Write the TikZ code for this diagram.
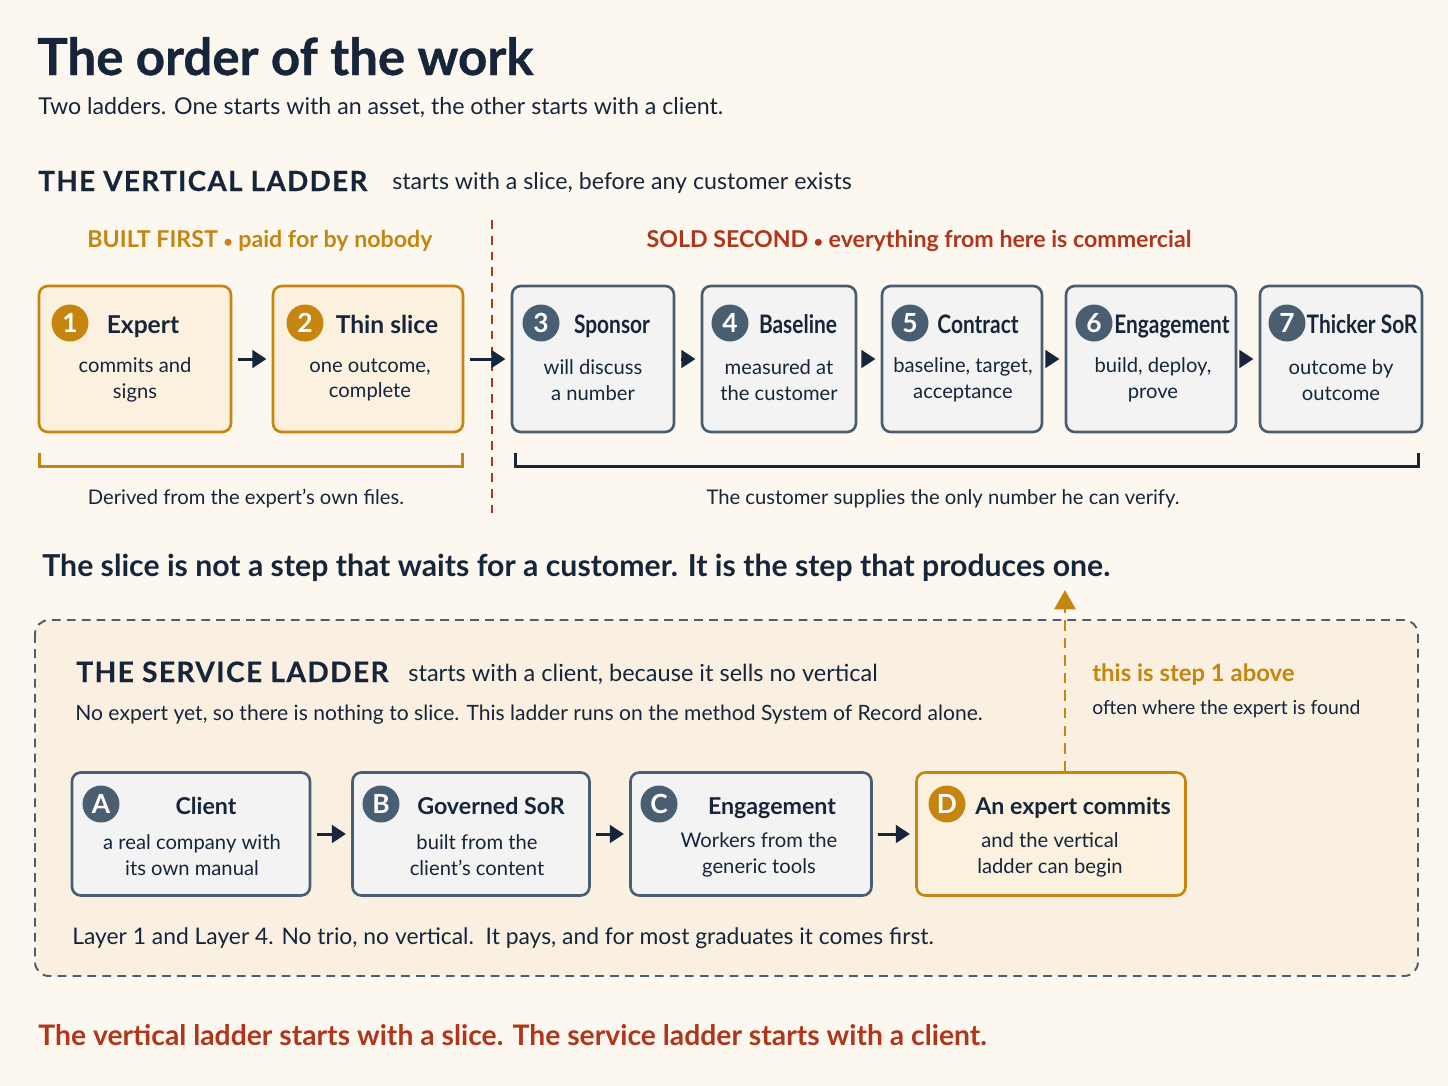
\documentclass[tikz,border=0pt]{standalone}
\usepackage{fontspec}
\setmainfont{Lato}
\newfontfamily\spacedfont[LetterSpace=5, FakeBold=0.4]{Lato}
\newfontfamily\heavyfont[FakeBold=0.7]{Lato}
\newfontfamily\narrowfont[FakeStretch=0.82]{Lato}
\usetikzlibrary{arrows.meta,positioning,calc}
\definecolor{cream}{HTML}{FCF8EF}
\definecolor{panel}{HTML}{F9F0E1}
\definecolor{ink}{HTML}{16253A}
\definecolor{gold}{HTML}{C5850F}
\definecolor{rust}{HTML}{B0351B}
\definecolor{slate}{HTML}{4A5E71}
\definecolor{slatefill}{HTML}{F2F3F2}
\definecolor{goldfill}{HTML}{FBF1DE}
\newcommand{\middot}{{\fontsize{9}{9}\selectfont •}}

\begin{document}
\begin{tikzpicture}[
    x=0.02cm, y=-0.02cm,
    box/.style={rectangle, draw, rounded corners=5pt, line width=1.5pt, inner sep=0pt, minimum height=2.92cm},
    slatebox/.style={box, draw=slate, fill=slatefill},
    goldbox/.style={box, draw=gold, fill=goldfill},
    badge/.style={circle, minimum size=0.74cm, inner sep=0pt, text=white, font=\fontsize{15}{15}\selectfont\bfseries},
    steptitle/.style={anchor=base, text=ink, font=\fontsize{14}{16}\selectfont\bfseries},
    narrowtitle/.style={steptitle, font=\narrowfont\fontsize{14.5}{16}\selectfont\bfseries},
    stepbody/.style={align=center, text=ink, font=\fontsize{11.5}{14.7}\selectfont},
    note/.style={anchor=base west, text=ink, inner sep=0pt},
    arrow/.style={-{Triangle[length=8pt, width=10pt]}, ink, line width=1.7pt, shorten <=3pt, shorten >=3pt}
]
    % page
    \fill[cream] (0,0) rectangle (1448,1086);

    % Heading
    \node[note, font=\heavyfont\fontsize{29}{34}\selectfont\bfseries] (head) at (37,75) {The order of the work};
    \node[note, font=\fontsize{13.2}{15}\selectfont] (sub) at (38,114) {Two ladders. One starts with an asset, the other starts with a client.};

    % The vertical ladder
    \node[note, font=\spacedfont\fontsize{15.8}{18}\selectfont\bfseries] (vlad) at (38,191) {THE VERTICAL LADDER};
    \node[note, font=\fontsize{13.2}{15}\selectfont] (vlsub) at (392,189) {starts with a slice, before any customer exists};
    \node[anchor=base, text=gold, font=\fontsize{13.2}{15}\selectfont\bfseries] (built) at (260,247) {BUILT FIRST \middot{} paid for by nobody};
    \node[anchor=base, text=rust, font=\fontsize{13.2}{15}\selectfont\bfseries] (sold) at (919,247) {SOLD SECOND \middot{} everything from here is commercial};
    \draw[rust, line width=1.6pt, dash pattern=on 5pt off 4pt] (492,220) -- (492,518);

    % steps 1-2 (built first)
    \node[goldbox, minimum width=3.84cm] (b1) at (135,359) {};
    \node[goldbox, minimum width=3.80cm] (b2) at (368,359) {};
    % steps 3-7 (sold second)
    \node[slatebox, minimum width=3.24cm] (b3) at (593,359) {};
    \node[slatebox, minimum width=3.08cm] (b4) at (779,359) {};
    \node[slatebox, minimum width=3.20cm] (b5) at (962,359) {};
    \node[slatebox, minimum width=3.40cm] (b6) at (1151,359) {};
    \node[slatebox, minimum width=3.24cm] (b7) at (1341,359) {};

    \node[badge, fill=gold] (n1) at (70,323) {1};
    \node[badge, fill=gold] (n2) at (305,323) {2};
    \node[badge, fill=slate] (n3) at (541,323) {3};
    \node[badge, fill=slate] (n4) at (730,323) {4};
    \node[badge, fill=slate] (n5) at (910,323) {5};
    \node[badge, fill=slate] (n6) at (1094,323) {6};
    \node[badge, fill=slate] (n7) at (1287,323) {7};

    \node[steptitle] (t1) at (143,333) {Expert};
    \node[steptitle] (t2) at (387,333) {Thin slice};
    \node[narrowtitle] (t3) at (612,333) {Sponsor};
    \node[narrowtitle] (t4) at (798,333) {Baseline};
    \node[narrowtitle] (t5) at (978,333) {Contract};
    \node[narrowtitle] (t6) at (1172,333) {Engagement};
    \node[narrowtitle] (t7) at (1362,333) {Thicker SoR};

    \node[stepbody] (d1) at (135,380) {commits and\\signs};
    \node[stepbody] (d2) at (370,380) {one outcome,\\complete};
    \node[stepbody] (d3) at (593,380) {will discuss\\a number};
    \node[stepbody] (d4) at (779,380) {measured at\\the customer};
    \node[stepbody] (d5) at (963,380) {baseline, target,\\acceptance};
    \node[stepbody] (d6) at (1153,380) {build, deploy,\\prove};
    \node[stepbody] (d7) at (1341,380) {outcome by\\outcome};

    \draw[arrow] (b1) -- (b2);
    \draw[arrow] (b2) -- (b3);
    \draw[arrow] (b3) -- (b4);
    \draw[arrow] (b4) -- (b5);
    \draw[arrow] (b5) -- (b6);
    \draw[arrow] (b6) -- (b7);

    % brackets
    \draw[gold, line width=1.7pt] ([shift={(1pt,-0.4cm)}]b1.south west) -- ([shift={(1pt,-0.66cm)}]b1.south west) -- ([shift={(-1pt,-0.66cm)}]b2.south east) -- ([shift={(-1pt,-0.4cm)}]b2.south east);
    \draw[ink, line width=1.7pt] ([shift={(3pt,-0.4cm)}]b3.south west) -- ([shift={(3pt,-0.66cm)}]b3.south west) -- ([shift={(-3pt,-0.66cm)}]b7.south east) -- ([shift={(-3pt,-0.4cm)}]b7.south east);
    \node[anchor=base, text=ink, font=\fontsize{11.5}{14}\selectfont] (own) at (246,504) {Derived from the expert’s own files.};
    \node[anchor=base, text=ink, font=\fontsize{11.5}{14}\selectfont] (verify) at (943,504) {The customer supplies the only number he can verify.};

    % statement
    \node[note, font=\fontsize{17.2}{20}\selectfont\bfseries] (claim) at (42,576) {The slice is not a step that waits for a customer. It is the step that produces one.};

    % The service ladder
    \draw[slate, fill=panel, line width=1.1pt, dash pattern=on 5pt off 3.5pt, rounded corners=8pt] (35,620) rectangle (1418,976);
    \node[note, font=\spacedfont\fontsize{16}{18}\selectfont\bfseries] (slad) at (76,682) {THE SERVICE LADDER};
    \node[note, font=\fontsize{13.4}{15}\selectfont] (slsub) at (408,681) {starts with a client, because it sells no vertical};
    \node[note, font=\fontsize{12}{15}\selectfont] (noexp) at (75,720) {No expert yet, so there is nothing to slice. This ladder runs on the method System of Record alone.};
    \node[note, text=gold, font=\fontsize{13.6}{15}\selectfont\bfseries] (hint1) at (1092,681) {this is step 1 above};
    \node[note, font=\fontsize{11}{14}\selectfont] (hint2) at (1092,714) {often where the expert is found};

    \node[slatebox, minimum width=4.76cm, minimum height=2.46cm] (bA) at (191,834) {};
    \node[slatebox, minimum width=4.74cm, minimum height=2.46cm] (bB) at (471,834) {};
    \node[slatebox, minimum width=4.82cm, minimum height=2.46cm] (bC) at (751,834) {};
    \node[goldbox, minimum width=5.38cm, minimum height=2.46cm] (bD) at (1051,834) {};

    \node[badge, fill=slate] (nA) at (101,804) {A};
    \node[badge, fill=slate] (nB) at (381,804) {B};
    \node[badge, fill=slate] (nC) at (659,804) {C};
    \node[badge, fill=gold] (nD) at (947,804) {D};

    \node[steptitle, font=\fontsize{13.2}{16}\selectfont\bfseries] (tA) at (206,814) {Client};
    \node[steptitle, font=\fontsize{13.2}{16}\selectfont\bfseries] (tB) at (491,814) {Governed SoR};
    \node[steptitle, font=\fontsize{13.2}{16}\selectfont\bfseries] (tC) at (772,814) {Engagement};
    \node[steptitle, font=\fontsize{13.2}{16}\selectfont\bfseries] (tD) at (1073,814) {An expert commits};

    \node[stepbody] (dA) at (192,855) {a real company with\\its own manual};
    \node[stepbody] (dB) at (477,855) {built from the\\client’s content};
    \node[stepbody] (dC) at (759,855) {Workers from the\\generic tools};
    \node[stepbody] (dD) at (1050,855) {and the vertical\\ladder can begin};

    \draw[arrow] (bA) -- (bB);
    \draw[arrow] (bB) -- (bC);
    \draw[arrow] (bC) -- (bD);

    % back up to step 1
    \coordinate (up) at (1065,590);
    \draw[gold, line width=1.6pt, dash pattern=on 6pt off 4pt, -{Triangle[length=11pt, width=12pt]}] (bD.north -| up) -- (up);

    \node[note, font=\fontsize{13}{15}\selectfont] (layer) at (72,944) {Layer 1 and Layer 4. No trio, no vertical.\ \ It pays, and for most graduates it comes first.};

    % closing line
    \node[note, text=rust, font=\fontsize{16.1}{19}\selectfont\bfseries] (close) at (38,1045) {The vertical ladder starts with a slice. The service ladder starts with a client.};
\end{tikzpicture}
\end{document}
